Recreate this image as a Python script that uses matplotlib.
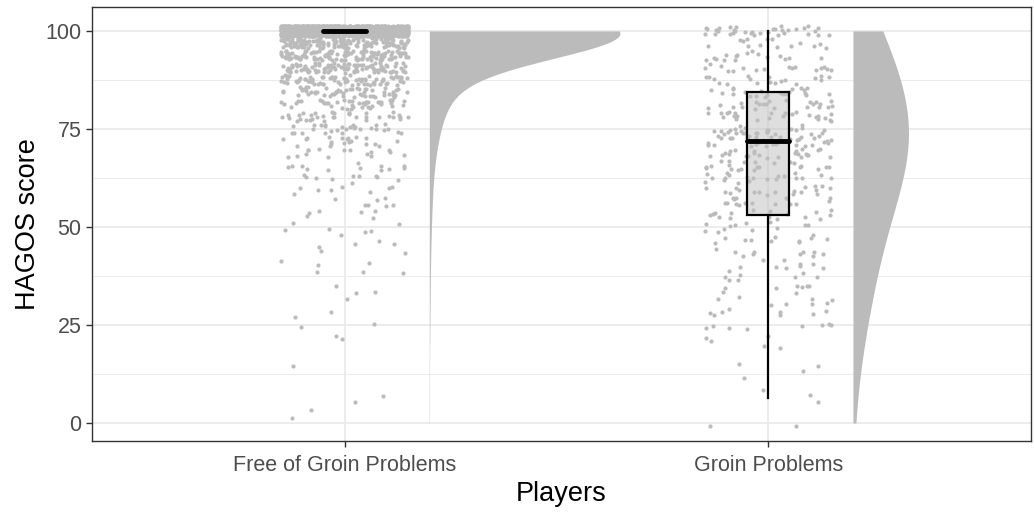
import numpy as np
import matplotlib
matplotlib.use("Agg")
import matplotlib.pyplot as plt

plt.rcParams['font.family'] = ['Liberation Sans', 'DejaVu Sans']

# HAGOS score levels (steps of 3.125) and how many players sit on each
levels = [0, 3.125, 6.25, 9.375, 12.5, 15.625, 18.75, 21.875, 25, 28.125,
          31.25, 34.375, 37.5, 40.625, 43.75, 46.875, 50, 53.125, 56.25,
          59.375, 62.5, 65.625, 68.75, 71.875, 75, 78.125, 81.25, 84.375,
          87.5, 90.625, 93.75, 96.875, 100]

counts_free = [1, 1, 2, 0, 0, 1, 0, 2, 2, 2,
               1, 3, 3, 3, 3, 4, 6, 6, 7,
               8, 10, 12, 15, 20, 28, 34, 42, 55,
               75, 100, 120, 140, 2150]

counts_groin = [2, 0, 2, 1, 2, 2, 2, 3, 8, 8,
                8, 8, 8, 9, 10, 11, 12, 16, 16,
                18, 20, 22, 24, 36, 26, 24, 22, 22,
                18, 16, 16, 14, 34]

groups = ['Free of Groin Problems', 'Groin Problems']
group_counts = [counts_free, counts_groin]
bw_list = [6.3, 14.0]

grey = '#BBBBBB'

fig = plt.figure(figsize=(10.34, 5.15), dpi=100)
ax = fig.add_axes([0.089, 0.1437, 0.908, 0.8427])

rng = np.random.default_rng(3)
data = []
for i, cnt in enumerate(group_counts):
    vals = np.repeat(np.array(levels, dtype=float), cnt)
    data.append(vals)
    pos = i + 1
    jx = pos + rng.uniform(-0.15, 0.15, len(vals))
    jy = vals + rng.uniform(-1.25, 1.25, len(vals))
    ax.scatter(jx, jy, s=9, color=grey, linewidths=0, zorder=2)

# half violins (density scaled by the common max, like scale = "area")
dens_all = []
for i, vals in enumerate(data):
    yy = np.linspace(vals.min(), vals.max(), 512)
    h = bw_list[i]
    d = np.exp(-0.5 * ((yy[:, None] - vals[None, :]) / h) ** 2).sum(axis=1)
    d = d / (len(vals) * h * np.sqrt(2 * np.pi))
    dens_all.append((yy, d))
gmax = max(d.max() for _, d in dens_all)
for i, (yy, d) in enumerate(dens_all):
    x0 = i + 1 + 0.2
    ax.fill_betweenx(yy, x0, x0 + d / gmax * 0.45, color=grey, linewidth=0, zorder=2)

ax.boxplot(data, positions=[1, 2], widths=0.1, whis=1.5, showfliers=False,
           showcaps=False, patch_artist=True,
           boxprops=dict(facecolor=(0.75, 0.75, 0.75, 0.5), edgecolor='black', linewidth=1.6),
           medianprops=dict(color='black', linewidth=3.5, solid_capstyle='round'),
           whiskerprops=dict(color='black', linewidth=1.6), zorder=3)

ax.set_xlim(0.404, 2.62)
ax.set_ylim(-4.6, 106.1)
ax.set_xticks([1, 2])
ax.set_xticklabels(groups)
ax.set_yticks([0, 25, 50, 75, 100])
ax.set_yticks([12.5, 37.5, 62.5, 87.5], minor=True)
ax.set_xticks([1.5], minor=True)
ax.tick_params(axis='x', which='minor', length=0)
ax.tick_params(axis='y', which='minor', length=0)
ax.tick_params(which='major', length=4, width=1, color='#333333',
               labelsize=15.5, labelcolor='#4D4D4D')
ax.tick_params(axis='x', which='major', pad=6)
ax.grid(True, which='major', color='#EBEBEB', linewidth=1.3, zorder=0)
ax.grid(True, which='minor', axis='y', color='#EBEBEB', linewidth=0.7, zorder=0)
ax.set_axisbelow(True)
for sp in ax.spines.values():
    sp.set_color('#333333')
    sp.set_linewidth(1)

ax.set_xlabel('Players', fontsize=19.5, labelpad=4)
ax.set_ylabel('HAGOS score', fontsize=19.5, labelpad=3)

fig.savefig('out.png', dpi=100)
